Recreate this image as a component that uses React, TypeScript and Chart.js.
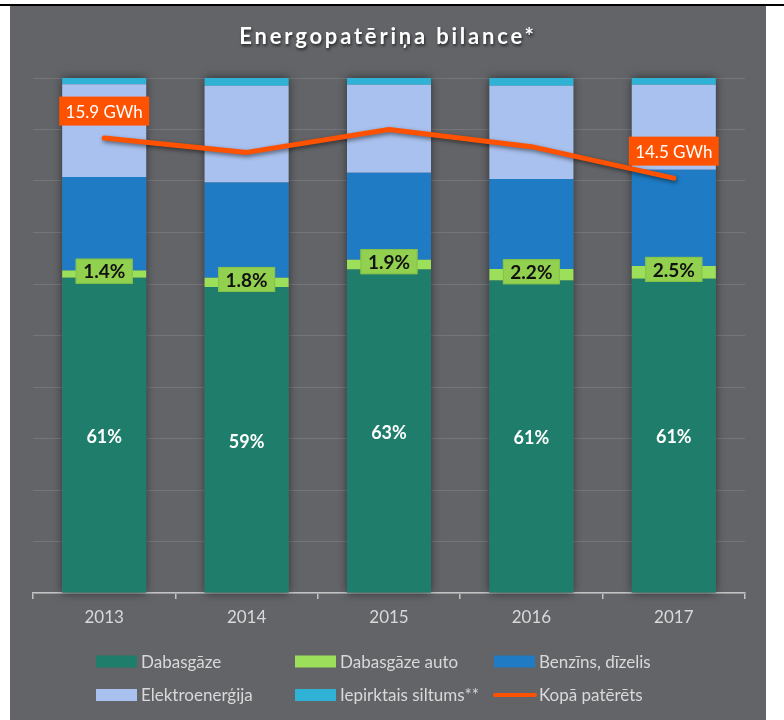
import React, { useEffect, useRef } from "react";
import { Chart, registerables } from "chart.js";

Chart.register(...registerables);

// ---- data ----
const categories = ["2013", "2014", "2015", "2016", "2017"];
const dabasgaze = [61.2, 59.4, 62.8, 60.7, 61.0];
const dabasgazeAuto = [1.4, 1.8, 1.9, 2.2, 2.5];
const benzins = [18.2, 18.5, 16.9, 17.5, 18.7];
const elektro = [18.0, 18.8, 17.1, 18.1, 16.5];
const siltums = [1.2, 1.5, 1.3, 1.5, 1.3];
const kopaPaterets = [15.9, 15.4, 16.2, 15.6, 14.5];
const kopaLabelIndexes = [0, 4];
const seriesNames = [
  "Dabasgāze",
  "Dabasgāze auto",
  "Benzīns, dīzelis",
  "Elektroenerģija",
  "Iepirktais siltums**",
  "Kopā patērēts",
];
const chartTitle = "Energopatēriņa bilance*";

// ---- styles ----
const BG = "#636468";
const FONT = "Lato, 'Open Sans', sans-serif";
const COLORS = ["#1f7e6b", "#9cdf5a", "#1f7bc4", "#a9c1ee", "#2fb2d6", "#ff5200"];

const barShadowPlugin = {
  id: "barShadow",
  beforeDatasetsDraw(chart: any) {
    const ctx = chart.ctx;
    const metas = chart.getSortedVisibleDatasetMetas().filter((m: any) => m.type === "bar");
    if (!metas.length) return;
    const n = chart.data.labels.length;
    ctx.save();
    ctx.shadowColor = "rgba(0,0,0,0.55)";
    ctx.shadowBlur = 9;
    ctx.fillStyle = BG;
    for (let i = 0; i < n; i++) {
      let top = Infinity, bottom = -Infinity, x = 0, w = 0;
      metas.forEach((m: any) => {
        const el = m.data[i];
        top = Math.min(top, el.y, el.base);
        bottom = Math.max(bottom, el.y, el.base);
        x = el.x;
        w = el.width;
      });
      ctx.fillRect(x - w / 2, top, w, bottom - top);
    }
    ctx.restore();
  },
  beforeDatasetDraw(chart: any, args: any) {
    if (chart.data.datasets[args.index].type === "line") {
      const ctx = chart.ctx;
      ctx.save();
      ctx.shadowColor = "rgba(0,0,0,0.5)";
      ctx.shadowBlur = 4;
      ctx.shadowOffsetX = 1;
      ctx.shadowOffsetY = 2;
    }
  },
  afterDatasetDraw(chart: any, args: any) {
    if (chart.data.datasets[args.index].type === "line") {
      chart.ctx.restore();
    }
  },
};

const labelsPlugin = {
  id: "customLabels",
  afterDatasetsDraw(chart: any) {
    const ctx = chart.ctx;
    ctx.save();
    // Dabasgāze percentages
    const m0 = chart.getDatasetMeta(0);
    ctx.font = `bold 18px ${FONT}`;
    ctx.fillStyle = "#ffffff";
    ctx.textAlign = "center";
    ctx.textBaseline = "middle";
    m0.data.forEach((el: any, i: number) => {
      const v = chart.data.datasets[0].data[i];
      ctx.fillText(`${Math.round(v)}%`, el.x, (el.y + el.base) / 2 + 2);
    });
    // Dabasgāze auto boxes
    const m1 = chart.getDatasetMeta(1);
    m1.data.forEach((el: any, i: number) => {
      const v = chart.data.datasets[1].data[i];
      const cx = el.x;
      const cy = (el.y + el.base) / 2 - 3;
      const w = 57, h = 25;
      ctx.fillStyle = "#92d050";
      ctx.fillRect(cx - w / 2, cy - h / 2, w, h);
      ctx.strokeStyle = "#86c246";
      ctx.lineWidth = 1;
      ctx.strokeRect(cx - w / 2 + 0.5, cy - h / 2 + 0.5, w - 1, h - 1);
      ctx.fillStyle = "#111111";
      ctx.font = `bold 19px ${FONT}`;
      ctx.fillText(`${v.toFixed(1)}%`, cx, cy + 1);
    });
    // Kopā labels
    const lineIdx = chart.data.datasets.findIndex((d: any) => d.type === "line");
    const ml = chart.getDatasetMeta(lineIdx);
    kopaLabelIndexes.forEach((i) => {
      const el = ml.data[i];
      const v = chart.data.datasets[lineIdx].data[i];
      const cx = el.x;
      const cy = el.y - 27;
      const w = 90, h = 29;
      ctx.fillStyle = COLORS[5];
      ctx.fillRect(cx - w / 2, cy - h / 2, w, h);
      ctx.fillStyle = "#ffffff";
      ctx.font = `17px ${FONT}`;
      ctx.fillText(`${v.toFixed(1)} GWh`, cx, cy + 1);
    });
    ctx.restore();
  },
  afterDraw(chart: any) {
    const ctx = chart.ctx;
    ctx.save();
    // Title
    ctx.font = `bold 22px ${FONT}`;
    (ctx as any).letterSpacing = "2.8px";
    ctx.textAlign = "center";
    ctx.textBaseline = "middle";
    ctx.shadowColor = "rgba(0,0,0,0.6)";
    ctx.shadowBlur = 3;
    ctx.shadowOffsetX = 1;
    ctx.shadowOffsetY = 2;
    ctx.fillStyle = "#ffffff";
    ctx.fillText(chartTitle, 378, 31);
    ctx.restore();

    // Legend
    ctx.save();
    const cols = [86, 285, 484];
    const rows = [655.5, 689];
    ctx.font = `17px ${FONT}`;
    ctx.textAlign = "left";
    ctx.textBaseline = "middle";
    chart.data.datasets.forEach((ds: any, i: number) => {
      const x = cols[i % 3];
      const y = rows[Math.floor(i / 3)];
      if (ds.type === "line") {
        ctx.fillStyle = ds.borderColor;
        ctx.beginPath();
        const lx = x - 1, lw = 44, lh = 4;
        ctx.moveTo(lx + lh / 2, y - lh / 2);
        ctx.lineTo(lx + lw - lh / 2, y - lh / 2);
        ctx.arc(lx + lw - lh / 2, y, lh / 2, -Math.PI / 2, Math.PI / 2);
        ctx.lineTo(lx + lh / 2, y + lh / 2);
        ctx.arc(lx + lh / 2, y, lh / 2, Math.PI / 2, Math.PI * 1.5);
        ctx.fill();
      } else {
        ctx.fillStyle = ds.backgroundColor;
        ctx.fillRect(x, y - 6, 41, 12);
      }
      ctx.fillStyle = "#d9d9d9";
      ctx.fillText(ds.label, x + 45, y + 1);
    });
    ctx.restore();
  },
};

export default function App() {
  const canvasRef = useRef<HTMLCanvasElement | null>(null);

  useEffect(() => {
    if (!canvasRef.current) return;
    const barSeries = [dabasgaze, dabasgazeAuto, benzins, elektro, siltums];
    const datasets: any[] = barSeries.map((data, i) => ({
      type: "bar",
      label: seriesNames[i],
      data,
      backgroundColor: COLORS[i],
      borderWidth: 0,
      stack: "s",
      yAxisID: "y",
      order: 1,
      barPercentage: 0.59,
      categoryPercentage: 1,
    }));
    datasets.push({
      type: "line",
      label: seriesNames[5],
      data: kopaPaterets,
      borderColor: COLORS[5],
      backgroundColor: COLORS[5],
      borderWidth: 5,
      borderCapStyle: "round",
      borderJoinStyle: "round",
      pointRadius: 0,
      tension: 0,
      yAxisID: "y2",
      order: 0,
    });

    const chart = new Chart(canvasRef.current, {
      type: "bar",
      data: { labels: categories, datasets },
      options: {
        animation: false,
        responsive: false,
        layout: { padding: { left: 23, right: 21, top: 72, bottom: 0 } },
        plugins: {
          legend: { display: false },
          title: { display: false },
          tooltip: { enabled: false },
        },
        scales: {
          x: {
            stacked: true,
            offset: true,
            border: { display: true, color: "#c4c4c4", width: 1.5 },
            grid: {
              display: true,
              drawOnChartArea: false,
              drawTicks: true,
              tickLength: 6,
              offset: true,
              color: "#c4c4c4",
              lineWidth: 1.5,
            },
            ticks: {
              color: "#d9d9d9",
              font: { family: FONT, size: 17 },
              padding: 8,
            },
            afterFit: (scale: any) => {
              scale.height = 127;
            },
          },
          y: {
            stacked: true,
            min: 0,
            max: 100,
            position: "left",
            border: { display: false },
            grid: { color: "#75767a", lineWidth: 1, drawTicks: false },
            ticks: { display: false, stepSize: 10 },
            afterFit: (scale: any) => {
              scale.width = 0;
            },
          },
          y2: {
            display: false,
            min: 0,
            max: 18,
            position: "right",
          },
        },
      } as any,
      plugins: [barShadowPlugin, labelsPlugin],
    });
    return () => chart.destroy();
  }, []);

  return (
    <div
      style={{
        position: "absolute",
        left: 0,
        top: 0,
        width: 784,
        height: 720,
        background: "#ffffff",
        overflow: "hidden",
      }}
    >
      <div
        style={{
          position: "absolute",
          left: 0,
          top: 4,
          width: 784,
          height: 2,
          background: "#000000",
        }}
      />
      <div
        style={{
          position: "absolute",
          left: 10,
          top: 6,
          width: 756,
          height: 714,
          background: BG,
        }}
      >
        <canvas ref={canvasRef} width={756} height={714} style={{ display: "block", width: 756, height: 714 }} />
      </div>
    </div>
  );
}
